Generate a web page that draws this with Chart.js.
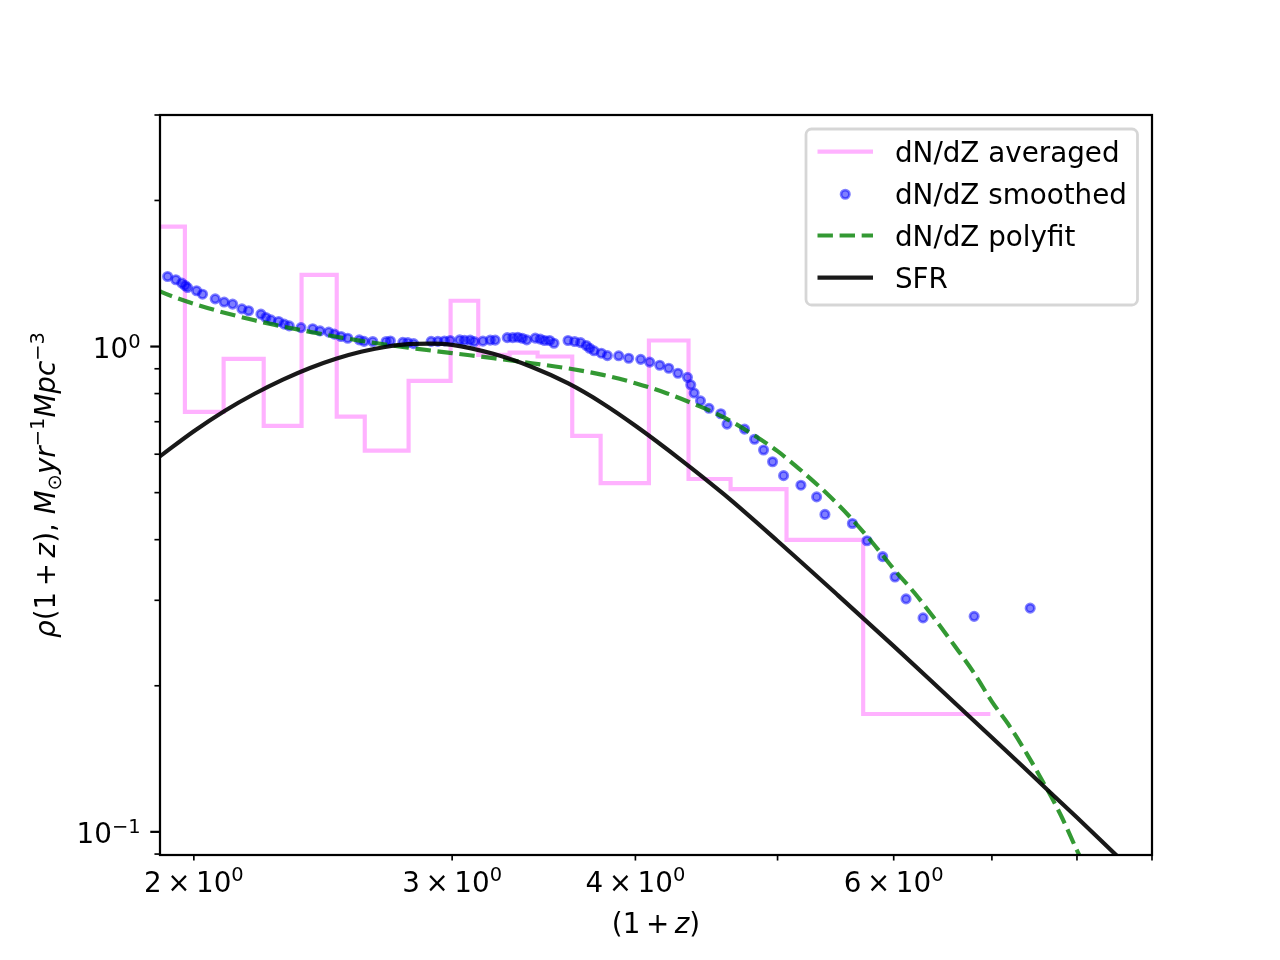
<!DOCTYPE html>
<html>
<head>
<meta charset="utf-8">
<script src="https://cdn.jsdelivr.net/npm/chart.js@4.4.1/dist/chart.umd.min.js"></script>
<style>
  html, body { margin: 0; padding: 0; background: #ffffff; }
  canvas { display: block; }
</style>
</head>
<body>
<canvas id="chart" width="1280" height="960" style="width:1280px;height:960px"></canvas>
<script>
// ---------------- data ----------------
// dN/dZ averaged : step histogram, bin edges in (1+z) and value per bin
const histEdges = [1.85, 1.9721, 2.0957, 2.2318, 2.3684, 2.5029, 2.6155, 2.8018, 2.9927, 3.1255,
                   3.2831, 3.4306, 3.6224, 3.7874, 4.0857, 4.3479, 4.6445, 5.0709, 5.7193, 6.9834];
const histValues = [1.766, 0.7333, 0.9433, 0.6864, 1.405, 0.7172, 0.6103, 0.8500, 1.2425, 0.9614,
                    0.9719, 0.9537, 0.6544, 0.5229, 1.029, 0.5335, 0.5086, 0.3995, 0.1749];

// dN/dZ smoothed : points
const smoothX = [1.9193, 1.9442, 1.9626, 1.9728, 1.9803, 2.0085, 2.0275, 2.0681, 2.0975, 2.1255,
                 2.1567, 2.1796, 2.2221, 2.2396, 2.2573, 2.2848, 2.3050, 2.3232, 2.3664, 2.4102,
                 2.4381, 2.4717, 2.4936, 2.5200, 2.5465, 2.5932, 2.6125, 2.6486, 2.7045, 2.7228,
                 2.7764, 2.7983, 2.8240, 2.9027, 2.9335, 2.9640, 2.9907, 3.0357, 3.0587, 3.0862,
                 3.1057, 3.1484, 3.1848, 3.2099, 3.2710, 3.2994, 3.3255, 3.3491, 3.3728, 3.4181,
                 3.4452, 3.4685, 3.4959, 3.5201, 3.5985, 3.6360, 3.6704, 3.7035, 3.7227, 3.7485,
                 3.7918, 3.8277, 3.8964, 3.9580, 4.0334, 4.0908, 4.1557, 4.2148, 4.2762, 4.3406,
                 4.3631, 4.3865, 4.4302, 4.4898, 4.5738, 4.6186, 4.7474, 4.8226, 4.8914, 4.9610,
                 5.0475, 5.1867, 5.3162, 5.3860, 5.6230, 5.7536, 5.8973, 6.0124, 6.1173, 6.2829,
                 6.8074, 7.4336];
const smoothY = [1.394, 1.373, 1.351, 1.336, 1.323, 1.303, 1.282, 1.254, 1.235, 1.223,
                 1.196, 1.185, 1.166, 1.148, 1.135, 1.126, 1.112, 1.103, 1.094, 1.088,
                 1.077, 1.071, 1.061, 1.049, 1.040, 1.032, 1.025, 1.024, 1.024, 1.027,
                 1.020, 1.019, 1.014, 1.025, 1.025, 1.027, 1.029, 1.032, 1.030, 1.031,
                 1.024, 1.026, 1.031, 1.031, 1.043, 1.043, 1.045, 1.040, 1.032, 1.041,
                 1.036, 1.029, 1.029, 1.016, 1.029, 1.024, 1.019, 1.005, 0.992, 0.980,
                 0.969, 0.958, 0.957, 0.946, 0.941, 0.929, 0.915, 0.902, 0.881, 0.864,
                 0.834, 0.802, 0.773, 0.746, 0.727, 0.692, 0.676, 0.644, 0.612, 0.579,
                 0.542, 0.518, 0.490, 0.451, 0.432, 0.398, 0.369, 0.335, 0.302, 0.276,
                 0.278, 0.289];

// dN/dZ polyfit : dashed curve
const polyX = [1.89, 1.9, 2.0, 2.2, 2.4, 2.6, 2.8, 3.0, 3.2, 3.4, 3.6, 3.8, 4.0, 4.2, 4.4, 4.6, 4.8,
               5.0, 5.2, 5.4, 5.6, 5.8, 6.0, 6.2, 6.4, 6.6, 6.8, 7.0, 7.2, 7.4, 7.6, 7.8, 8.0, 8.2];
const polyY = [1.3070, 1.2965, 1.2248, 1.1324, 1.0723, 1.0274, 0.9948, 0.9691, 0.9464, 0.9238, 0.9013,
               0.8743, 0.8404, 0.8015, 0.7582, 0.7135, 0.6616, 0.6087, 0.5521, 0.4983, 0.4459, 0.3951,
               0.3480, 0.3106, 0.2745, 0.2421, 0.2134, 0.1855, 0.1648, 0.1443, 0.1254, 0.1082, 0.0916, 0.0788];

// SFR : solid curve
const sfrX = [1.89, 1.9, 2.0, 2.1, 2.2, 2.3, 2.4, 2.5, 2.6, 2.7, 2.8, 2.9, 3.0, 3.2, 3.4, 3.6, 3.8,
              4.0, 4.3, 4.6, 5.0, 5.5, 6.0, 6.5, 7.0, 7.5, 8.0, 8.5, 9.0];
const sfrY = [0.5896, 0.5966, 0.6692, 0.7376, 0.7993, 0.8548, 0.9034, 0.9437, 0.9756, 0.9981, 1.0115,
              1.0139, 1.0081, 0.9659, 0.9073, 0.8393, 0.7635, 0.6868, 0.5830, 0.4952, 0.3975, 0.3068,
              0.2414, 0.1928, 0.1565, 0.1286, 0.1070, 0.0898, 0.0762];

// axes
const xRange = [1.8965, 9.0];
const yRange = [0.0896, 3.0];
const xTickValues = [2, 3, 4, 5, 6, 7, 8, 9];
const xTickBases = ['2\u2009\u00d7\u200910', '3\u2009\u00d7\u200910', '4\u2009\u00d7\u200910', '',
                    '6\u2009\u00d7\u200910', '', '', ''];
const xTickExps = ['0', '0', '0', '', '0', '', '', ''];
const yMajorTicks = [0.1, 1];
const yTickBases = ['10', '10'];
const yTickExps = ['\u22121', '0'];
const yMinorTicks = [0.09, 0.2, 0.3, 0.4, 0.5, 0.6, 0.7, 0.8, 0.9, 2, 3];
const legendLabels = ['dN/dZ averaged', 'dN/dZ smoothed', 'dN/dZ polyfit', 'SFR'];

// ---------------- styling ----------------
const DPI = 200 / 72;           // matplotlib points -> px
const F = 10 * DPI;             // 10 pt font
const LW = 1.5 * DPI;           // default line width
const FAM = "'DejaVu Sans'";
const C_HIST = 'rgba(255,0,255,0.3)';
const C_DOT = 'rgba(0,0,255,0.5)';
const C_POLY = 'rgba(0,128,0,0.8)';
const C_SFR = 'rgba(0,0,0,0.9)';
const DASH = [3.7 * LW, 1.6 * LW];
const SUP = -0.38;

const histPoints = histValues.map((v, i) => ({ x: histEdges[i], y: v }));
histPoints.push({ x: histEdges[histEdges.length - 1], y: histValues[histValues.length - 1] });
const zip = (xs, ys) => xs.map((x, i) => ({ x: x, y: ys[i] }));

function drawRich(c, segs, x, y, size) {
  let cx = x;
  segs.forEach(s => {
    const sz = size * (s.s || 1);
    c.font = (s.it ? 'italic ' : '') + sz + 'px ' + FAM;
    c.fillText(s.t, cx, y + (s.dy || 0) * size);
    cx += c.measureText(s.t).width;
  });
}
function richWidth(c, segs, size) {
  let w = 0;
  segs.forEach(s => {
    const sz = size * (s.s || 1);
    c.font = (s.it ? 'italic ' : '') + sz + 'px ' + FAM;
    w += c.measureText(s.t).width;
  });
  return w;
}

const yTitle = [
  { t: '\u03c1', it: 1 }, { t: '(1\u2009+\u2009' }, { t: 'z', it: 1 }, { t: '), ' },
  { t: 'M', it: 1 }, { t: '\u2299', s: 0.7, dy: 0.22 }, { t: 'yr', it: 1 },
  { t: '\u22121', s: 0.7, dy: SUP }, { t: 'Mpc', it: 1 }, { t: '\u22123', s: 0.7, dy: SUP }
];
const xTitle = [{ t: '(1\u2009+\u2009' }, { t: 'z', it: 1 }, { t: ')' }];

const decor = {
  id: 'decor',
  beforeDraw(chart) {
    const c = chart.ctx;
    c.save();
    c.fillStyle = '#ffffff';
    c.fillRect(0, 0, chart.width, chart.height);
    c.restore();
  },
  afterDraw(chart) {
    const c = chart.ctx, a = chart.chartArea, xs = chart.scales.x, ys = chart.scales.y;
    c.save();
    c.strokeStyle = '#000000';
    c.fillStyle = '#000000';
    c.textBaseline = 'alphabetic';
    c.textAlign = 'left';
    // x ticks (all minor in this range) + labels
    c.lineWidth = 0.6 * DPI;
    xTickValues.forEach((v, i) => {
      const p = xs.getPixelForValue(v);
      c.beginPath(); c.moveTo(p, a.bottom); c.lineTo(p, a.bottom + 2 * DPI); c.stroke();
      if (xTickBases[i]) {
        const segs = [{ t: xTickBases[i] }, { t: xTickExps[i], s: 0.7, dy: SUP }];
        const w = richWidth(c, segs, F);
        drawRich(c, segs, p - w / 2, a.bottom + 36.7, F);
      }
    });
    // y minor ticks
    yMinorTicks.forEach(v => {
      if (v < yRange[0] || v > yRange[1]) return;
      const p = ys.getPixelForValue(v);
      c.beginPath(); c.moveTo(a.left, p); c.lineTo(a.left - 2 * DPI, p); c.stroke();
    });
    // y major ticks + labels
    c.lineWidth = 0.8 * DPI;
    yMajorTicks.forEach((v, i) => {
      const p = ys.getPixelForValue(v);
      c.beginPath(); c.moveTo(a.left, p); c.lineTo(a.left - 3.5 * DPI, p); c.stroke();
      const segs = [{ t: yTickBases[i] }, { t: yTickExps[i], s: 0.7, dy: SUP }];
      const w = richWidth(c, segs, F);
      drawRich(c, segs, a.left - 7 * DPI - w, p + 11.6, F);
    });
    // spines
    c.lineWidth = 0.8 * DPI;
    c.strokeRect(a.left, a.top, a.right - a.left, a.bottom - a.top);

    // legend
    const bx = 806, by = 129, bw = 331.5, bh = 176, r = 0.2 * F;
    c.beginPath();
    c.moveTo(bx + r, by); c.lineTo(bx + bw - r, by); c.arcTo(bx + bw, by, bx + bw, by + r, r);
    c.lineTo(bx + bw, by + bh - r); c.arcTo(bx + bw, by + bh, bx + bw - r, by + bh, r);
    c.lineTo(bx + r, by + bh); c.arcTo(bx, by + bh, bx, by + bh - r, r);
    c.lineTo(bx, by + r); c.arcTo(bx, by, bx + r, by, r); c.closePath();
    c.fillStyle = 'rgba(255,255,255,0.8)'; c.fill();
    c.strokeStyle = 'rgba(204,204,204,0.8)'; c.lineWidth = 1.0 * DPI; c.stroke();

    const rows = [151.7, 194.3, 235.5, 277.7];
    const hx0 = 817.5, hx1 = 873;
    c.lineWidth = LW;
    c.lineCap = 'butt';
    c.strokeStyle = C_HIST; c.setLineDash([]);
    c.beginPath(); c.moveTo(hx0, rows[0]); c.lineTo(hx1, rows[0]); c.stroke();
    c.beginPath(); c.arc((hx0 + hx1) / 2, rows[1], 1.5 * DPI, 0, Math.PI * 2);
    c.fillStyle = C_DOT; c.fill(); c.lineWidth = DPI; c.strokeStyle = C_DOT; c.stroke();
    c.lineWidth = LW; c.strokeStyle = C_POLY; c.setLineDash(DASH);
    c.beginPath(); c.moveTo(hx0, rows[2]); c.lineTo(hx1, rows[2]); c.stroke();
    c.setLineDash([]);
    c.strokeStyle = C_SFR;
    c.beginPath(); c.moveTo(hx0, rows[3]); c.lineTo(hx1, rows[3]); c.stroke();

    c.fillStyle = '#000000';
    c.font = F + 'px ' + FAM;
    legendLabels.forEach((t, i) => c.fillText(t, 895, rows[i] + 10));

    // x axis title
    const cxMid = (a.left + a.right) / 2;
    const wx = richWidth(c, xTitle, F);
    drawRich(c, xTitle, cxMid - wx / 2, 933, F);

    // y axis title (rotated)
    const cyMid = (a.top + a.bottom) / 2;
    const wy = richWidth(c, yTitle, F);
    c.save();
    c.translate(55, cyMid);
    c.rotate(-Math.PI / 2);
    drawRich(c, yTitle, -wy / 2, 0, F);
    c.restore();

    c.restore();
  }
};

new Chart(document.getElementById('chart').getContext('2d'), {
  type: 'line',
  data: {
    datasets: [
      {
        label: legendLabels[0], data: histPoints, stepped: 'before',
        borderColor: C_HIST, borderWidth: LW, pointRadius: 0, fill: false,
        borderJoinStyle: 'miter', order: 4, clip: 0
      },
      {
        label: legendLabels[1], type: 'scatter', data: zip(smoothX, smoothY), showLine: false,
        pointRadius: 1.5 * DPI, pointBorderWidth: DPI,
        pointBackgroundColor: C_DOT, pointBorderColor: C_DOT, order: 3
      },
      {
        label: legendLabels[2], data: zip(polyX, polyY),
        borderColor: C_POLY, borderWidth: LW, borderDash: DASH, pointRadius: 0, fill: false,
        cubicInterpolationMode: 'monotone', order: 2, clip: 0
      },
      {
        label: legendLabels[3], data: zip(sfrX, sfrY),
        borderColor: C_SFR, borderWidth: LW, pointRadius: 0, fill: false,
        cubicInterpolationMode: 'monotone', order: 1, clip: 0
      }
    ]
  },
  options: {
    responsive: false,
    animation: false,
    devicePixelRatio: 1,
    events: [],
    layout: { padding: { left: 0, top: 115, right: 128, bottom: 0 } },
    plugins: { legend: { display: false }, tooltip: { enabled: false }, title: { display: false } },
    scales: {
      x: {
        type: 'logarithmic', min: xRange[0], max: xRange[1], bounds: 'data',
        grid: { display: false, drawTicks: false }, border: { display: false },
        ticks: { display: false },
        afterBuildTicks: s => { s.ticks = xTickValues.map(v => ({ value: v })); },
        afterFit: s => { s.height = 105; }
      },
      y: {
        type: 'logarithmic', min: yRange[0], max: yRange[1], bounds: 'data',
        grid: { display: false, drawTicks: false }, border: { display: false },
        ticks: { display: false },
        afterBuildTicks: s => { s.ticks = yMajorTicks.map(v => ({ value: v })); },
        afterFit: s => { s.width = 160; }
      }
    }
  },
  plugins: [decor]
});
</script>
</body>
</html>
